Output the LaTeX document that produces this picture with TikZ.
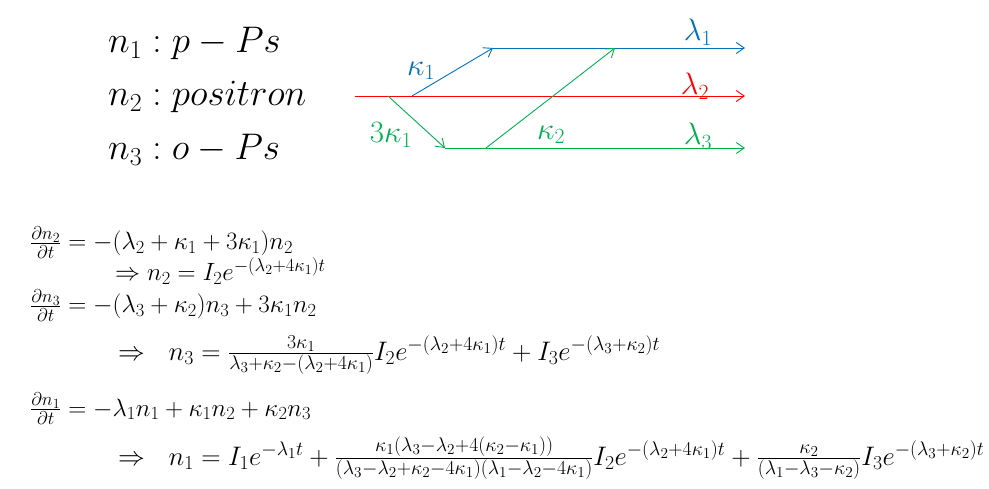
\RequirePackage{fix-cm}
\documentclass[tikz,border=0pt]{standalone}
\usepackage{amsmath}
\usepackage{tikz}
\usetikzlibrary{arrows.meta}

\DeclareMathSizes{25}{25}{18.5}{14}
\DeclareMathSizes{26.8}{26.8}{19.8}{15.2}

\definecolor{pblue}{RGB}{0,112,192}
\definecolor{pred}{RGB}{255,0,0}
\definecolor{pgreen}{RGB}{0,176,80}

\tikzset{
  decay/.style={line width=0.9pt,-{Straight Barb[length=8pt,width=11pt]}},
  ratelbl/.style={inner sep=0pt,font=\fontsize{31}{36}\selectfont},
  species/.style={inner sep=0pt,anchor=base west,font=\fontsize{37}{44}\selectfont},
  eqn/.style={inner sep=0pt,anchor=base west,font=\fontsize{25}{30}\selectfont},
  soln/.style={eqn,font=\fontsize{26.8}{32}\selectfont}
}

\begin{document}
\begin{tikzpicture}[x=1pt,y=-1pt]
  \useasboundingbox (0,0) rectangle (989,489);
  % species
  \node[species] (s1) at (108,53) {$n_1: p-Ps$};
  \node[species] (s2) at (108,106) {$n_2: positron$};
  \node[species] (s3) at (108,160) {$n_3: o-Ps$};
  % level scheme
  \coordinate (redL) at (355,96);
  \coordinate (redR) at (745,96);
  \coordinate (blueS) at (412,96);
  \coordinate (blueK) at (493,48);
  \coordinate (blueU) at (615,48);
  \coordinate (blueR) at (745,48);
  \coordinate (grnS) at (388,96);
  \coordinate (grnK) at (445,148);
  \coordinate (grnU) at (486,148);
  \coordinate (grnR) at (745,148);
  \draw[decay,pred] (redL) -- (redR);
  \draw[decay,pblue] (blueS) -- (blueK);
  \draw[decay,pblue] (blueK) -- (blueR);
  \draw[decay,pgreen] (grnS) -- (grnK);
  \draw[decay,pgreen] (grnK) -- (grnR);
  \draw[decay,pgreen] (grnU) -- (blueU);
  \node[ratelbl,pblue] (lam1) at (698,32) {$\lambda_1$};
  \node[ratelbl,pred] (lam2) at (695,86) {$\lambda_2$};
  \node[ratelbl,pgreen] (lam3) at (698,136) {$\lambda_3$};
  \node[ratelbl,pblue] (kap1) at (421,71) {$\kappa_1$};
  \node[ratelbl,pgreen] (kap3) at (391,135) {$3\kappa_1$};
  \node[ratelbl,pgreen] (kap2) at (551,135) {$\kappa_2$};
  % rate equations
  \node[eqn] (eq1) at (30,250) {$\frac{\partial n_2}{\partial t}=-(\lambda_2+\kappa_1+3\kappa_1)n_2$};
  \node[eqn] (eq2) at (115,281) {$\Rightarrow n_2=I_2e^{-(\lambda_2+4\kappa_1)t}$};
  \node[eqn] (eq3) at (30,313) {$\frac{\partial n_3}{\partial t}=-(\lambda_3+\kappa_2)n_3+3\kappa_1n_2$};
  \node[soln] (eq4) at (118,360) {$\Rightarrow\ \ n_3=\frac{3\kappa_1}{\lambda_3+\kappa_2-(\lambda_2+4\kappa_1)}I_2e^{-(\lambda_2+4\kappa_1)t}+I_3e^{-(\lambda_3+\kappa_2)t}$};
  \node[eqn] (eq5) at (30,416) {$\frac{\partial n_1}{\partial t}=-\lambda_1n_1+\kappa_1n_2+\kappa_2n_3$};
  \node[soln] (eq6) at (118,465) {$\Rightarrow\ \ n_1=I_1e^{-\lambda_1t}+\frac{\kappa_1(\lambda_3-\lambda_2+4(\kappa_2-\kappa_1))}{(\lambda_3-\lambda_2+\kappa_2-4\kappa_1)(\lambda_1-\lambda_2-4\kappa_1)}I_2e^{-(\lambda_2+4\kappa_1)t}+\frac{\kappa_2}{(\lambda_1-\lambda_3-\kappa_2)}I_3e^{-(\lambda_3+\kappa_2)t}$};
\end{tikzpicture}
\end{document}
